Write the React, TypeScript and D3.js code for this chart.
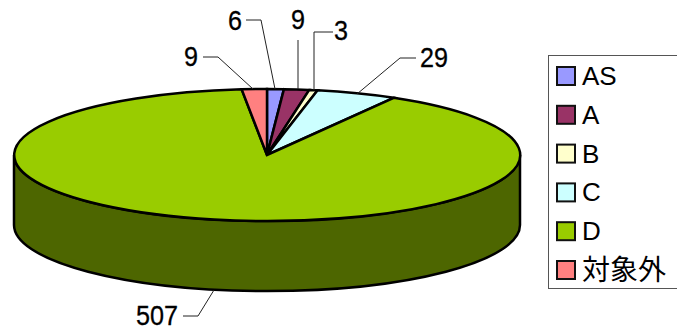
import React from "react";
import * as d3 from "d3";

const categories = ["AS", "A", "B", "C", "D", "対象外"];
const values = [6, 9, 3, 29, 507, 9];
const colors = ["#9999ff", "#993366", "#ffffcc", "#ccffff", "#99cc00", "#ff8080"];
const sideColor = "#4d6600";
const labelText = ["6", "9", "3", "29", "507", "9"];
const labelXY = [[235, 20], [298, 19], [341, 30], [434, 57], [157, 315], [191, 56]];
const leaders = [
  [[246, 20], [261, 20], [275, 89]],
  [[298, 40], [298, 89]],
  [[333, 32], [314, 32], [314, 90]],
  [[416, 58], [400, 58], [357, 94]],
  [[183, 316], [198, 316], [214, 290]],
  [[203, 57], [218, 57], [253, 89]],
];
const FONT = "'Liberation Sans', 'Noto Sans CJK JP', sans-serif";

export default function App() {
  const cx = 267, cy = 155, rx = 253, ry = 66, depth = 70;
  const pie = d3.pie<number>().sort(null).value((d) => d);
  const arcs = pie(values);
  const arc = d3.arc<d3.PieArcDatum<number>>().innerRadius(0).outerRadius(1);
  const line = d3.line();
  const side = `M${cx - rx},${cy}A${rx},${ry} 0 0 0 ${cx + rx},${cy}V${cy + depth}A${rx},${ry} 0 0 1 ${cx - rx},${cy + depth}Z`;
  const legendY = d3.scalePoint<string>().domain(categories).range([76, 270]);
  return (
    <svg width={677} height={330} style={{ position: "fixed", left: 0, top: 0, background: "#fff" }} fontFamily={FONT}>
      <path d={side} fill={sideColor} stroke="#000" strokeWidth={2.5} />
      <g transform={`translate(${cx},${cy}) scale(${rx},${ry})`}>
        {arcs.map((a, i) => (
          <path key={i} d={arc(a) as string} fill={colors[i]} stroke="#000" strokeWidth={2.5} vectorEffect="non-scaling-stroke" strokeLinejoin="miter" />
        ))}
      </g>
      {leaders.map((l, i) => (
        <path key={i} d={line(l as [number, number][]) as string} fill="none" stroke="#222" strokeWidth={1} />
      ))}
      {labelText.map((t, i) => (
        <text key={i} x={labelXY[i][0]} y={labelXY[i][1]} fontSize={28} textAnchor="middle" dominantBaseline="central" fill="#000" stroke="#000" strokeWidth={0.3} textLength={t.length * 14} lengthAdjust="spacingAndGlyphs">{t}</text>
      ))}
      <rect x={548.5} y={55.5} width={140} height={233} fill="#fff" stroke="#555" strokeWidth={1} />
      {categories.map((c, i) => (
        <g key={c} transform={`translate(0,${legendY(c)})`}>
          <rect x={557} y={-9} width={18} height={18} fill={colors[i]} stroke="#111" strokeWidth={2} />
          <text x={582} y={0} fontSize={c.length > 2 ? 28 : 26} dominantBaseline="central" fill="#000">{c}</text>
        </g>
      ))}
    </svg>
  );
}
